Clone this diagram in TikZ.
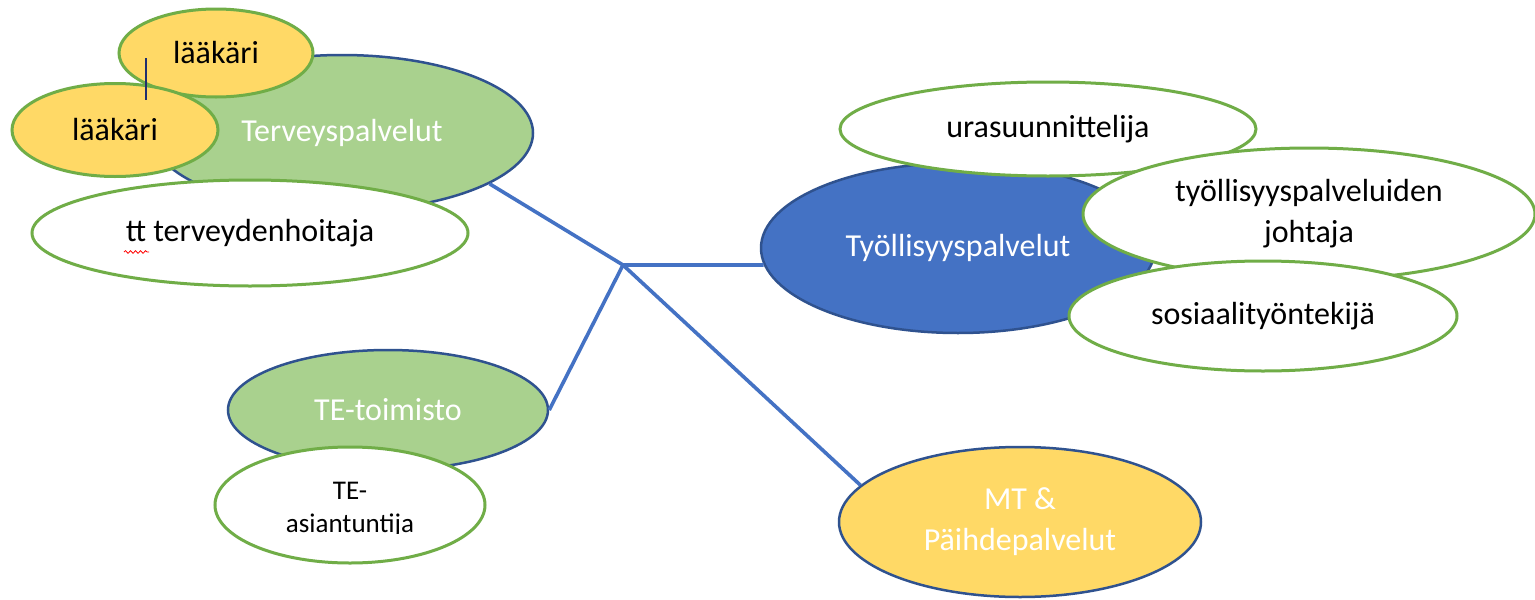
\documentclass[tikz,border=0pt]{standalone}
\usepackage{fontspec}
\setmainfont{Carlito}
\usetikzlibrary{shapes.geometric,decorations.pathmorphing}
\definecolor{cgreen}{HTML}{A9D18E}
\definecolor{cgreenline}{HTML}{70AD47}
\definecolor{cyellow}{HTML}{FFD966}
\definecolor{cblue}{HTML}{4472C4}
\definecolor{cdark}{HTML}{2F528F}
\definecolor{cnavy}{HTML}{1F2F6F}
\begin{document}
\begin{tikzpicture}[x=1pt,y=-1pt,
  every node/.style={ellipse, inner sep=0pt, align=center, font=\fontsize{32}{41}\selectfont},
  mainbox/.style={draw=cdark, line width=2.5pt, text=white},
  subbox/.style={draw=cgreenline, line width=3pt, fill=white, text=black},
  sz/.style 2 args={minimum width=#1pt, minimum height=#2pt},
  conn/.style={draw=cblue, line width=3.6pt}]
\useasboundingbox[fill=white] (0,0) rectangle (1535,600);

% Terveyspalvelut group
\node[mainbox, fill=cgreen, sz={382}{156}] (terv) at (342,133) {Terveyspalvelut};
\node[subbox, fill=cyellow, sz={194}{88}] (laak1) at (216,53) {lääkäri};
\node[subbox, fill=cyellow, sz={206}{93}] (laak2) at (115,130) {lääkäri};
\node[subbox, sz={436}{106}] (tth) at (250,233) {tt terveydenhoitaja};
\coordinate (v1) at (146,58);
\coordinate (v2) at (146,100);
\draw[cnavy, line width=1.2pt] (v1) -- (v2);
\draw[red, line width=0.8pt, decorate, decoration={snake, amplitude=1.3pt, segment length=5pt}] (124,252) -- (149,252);

% TE-toimisto group
\node[mainbox, fill=cgreen, sz={320}{120}] (te) at (388,410) {TE-toimisto};
\node[subbox, sz={270}{116}] (teas) at (350,505) {};
\begin{scope}
  \clip (200,440) rectangle (500,533);
  \node[font=\fontsize{27}{33}\selectfont, text=black] (teastext) at (350,510) {TE-\\asiantuntija};
\end{scope}

% Tyollisyyspalvelut group
\node[mainbox, fill=cblue, sz={394}{170}] (tyo) at (958,248) {Työllisyyspalvelut};
\node[subbox, sz={416}{94}] (uras) at (1048,129) {urasuunnittelija};
\node[subbox, sz={452}{132}] (joht) at (1309,214) {työllisyyspalveluiden\\johtaja};
\node[subbox, sz={388}{110}] (sos) at (1263,316) {sosiaalityöntekijä};

% MT
\node[mainbox, fill=cyellow, sz={362}{150}] (mt) at (1020,522) {MT \&\\Päihdepalvelut};

% connectors
\coordinate (hub) at (623,265);
\draw[conn] (terv.-19) -- (hub);
\draw[conn] (te.east) -- (hub);
\draw[conn] (hub) -- (tyo.185);
\draw[conn] (hub) -- (mt.167);
\end{tikzpicture}
\end{document}
